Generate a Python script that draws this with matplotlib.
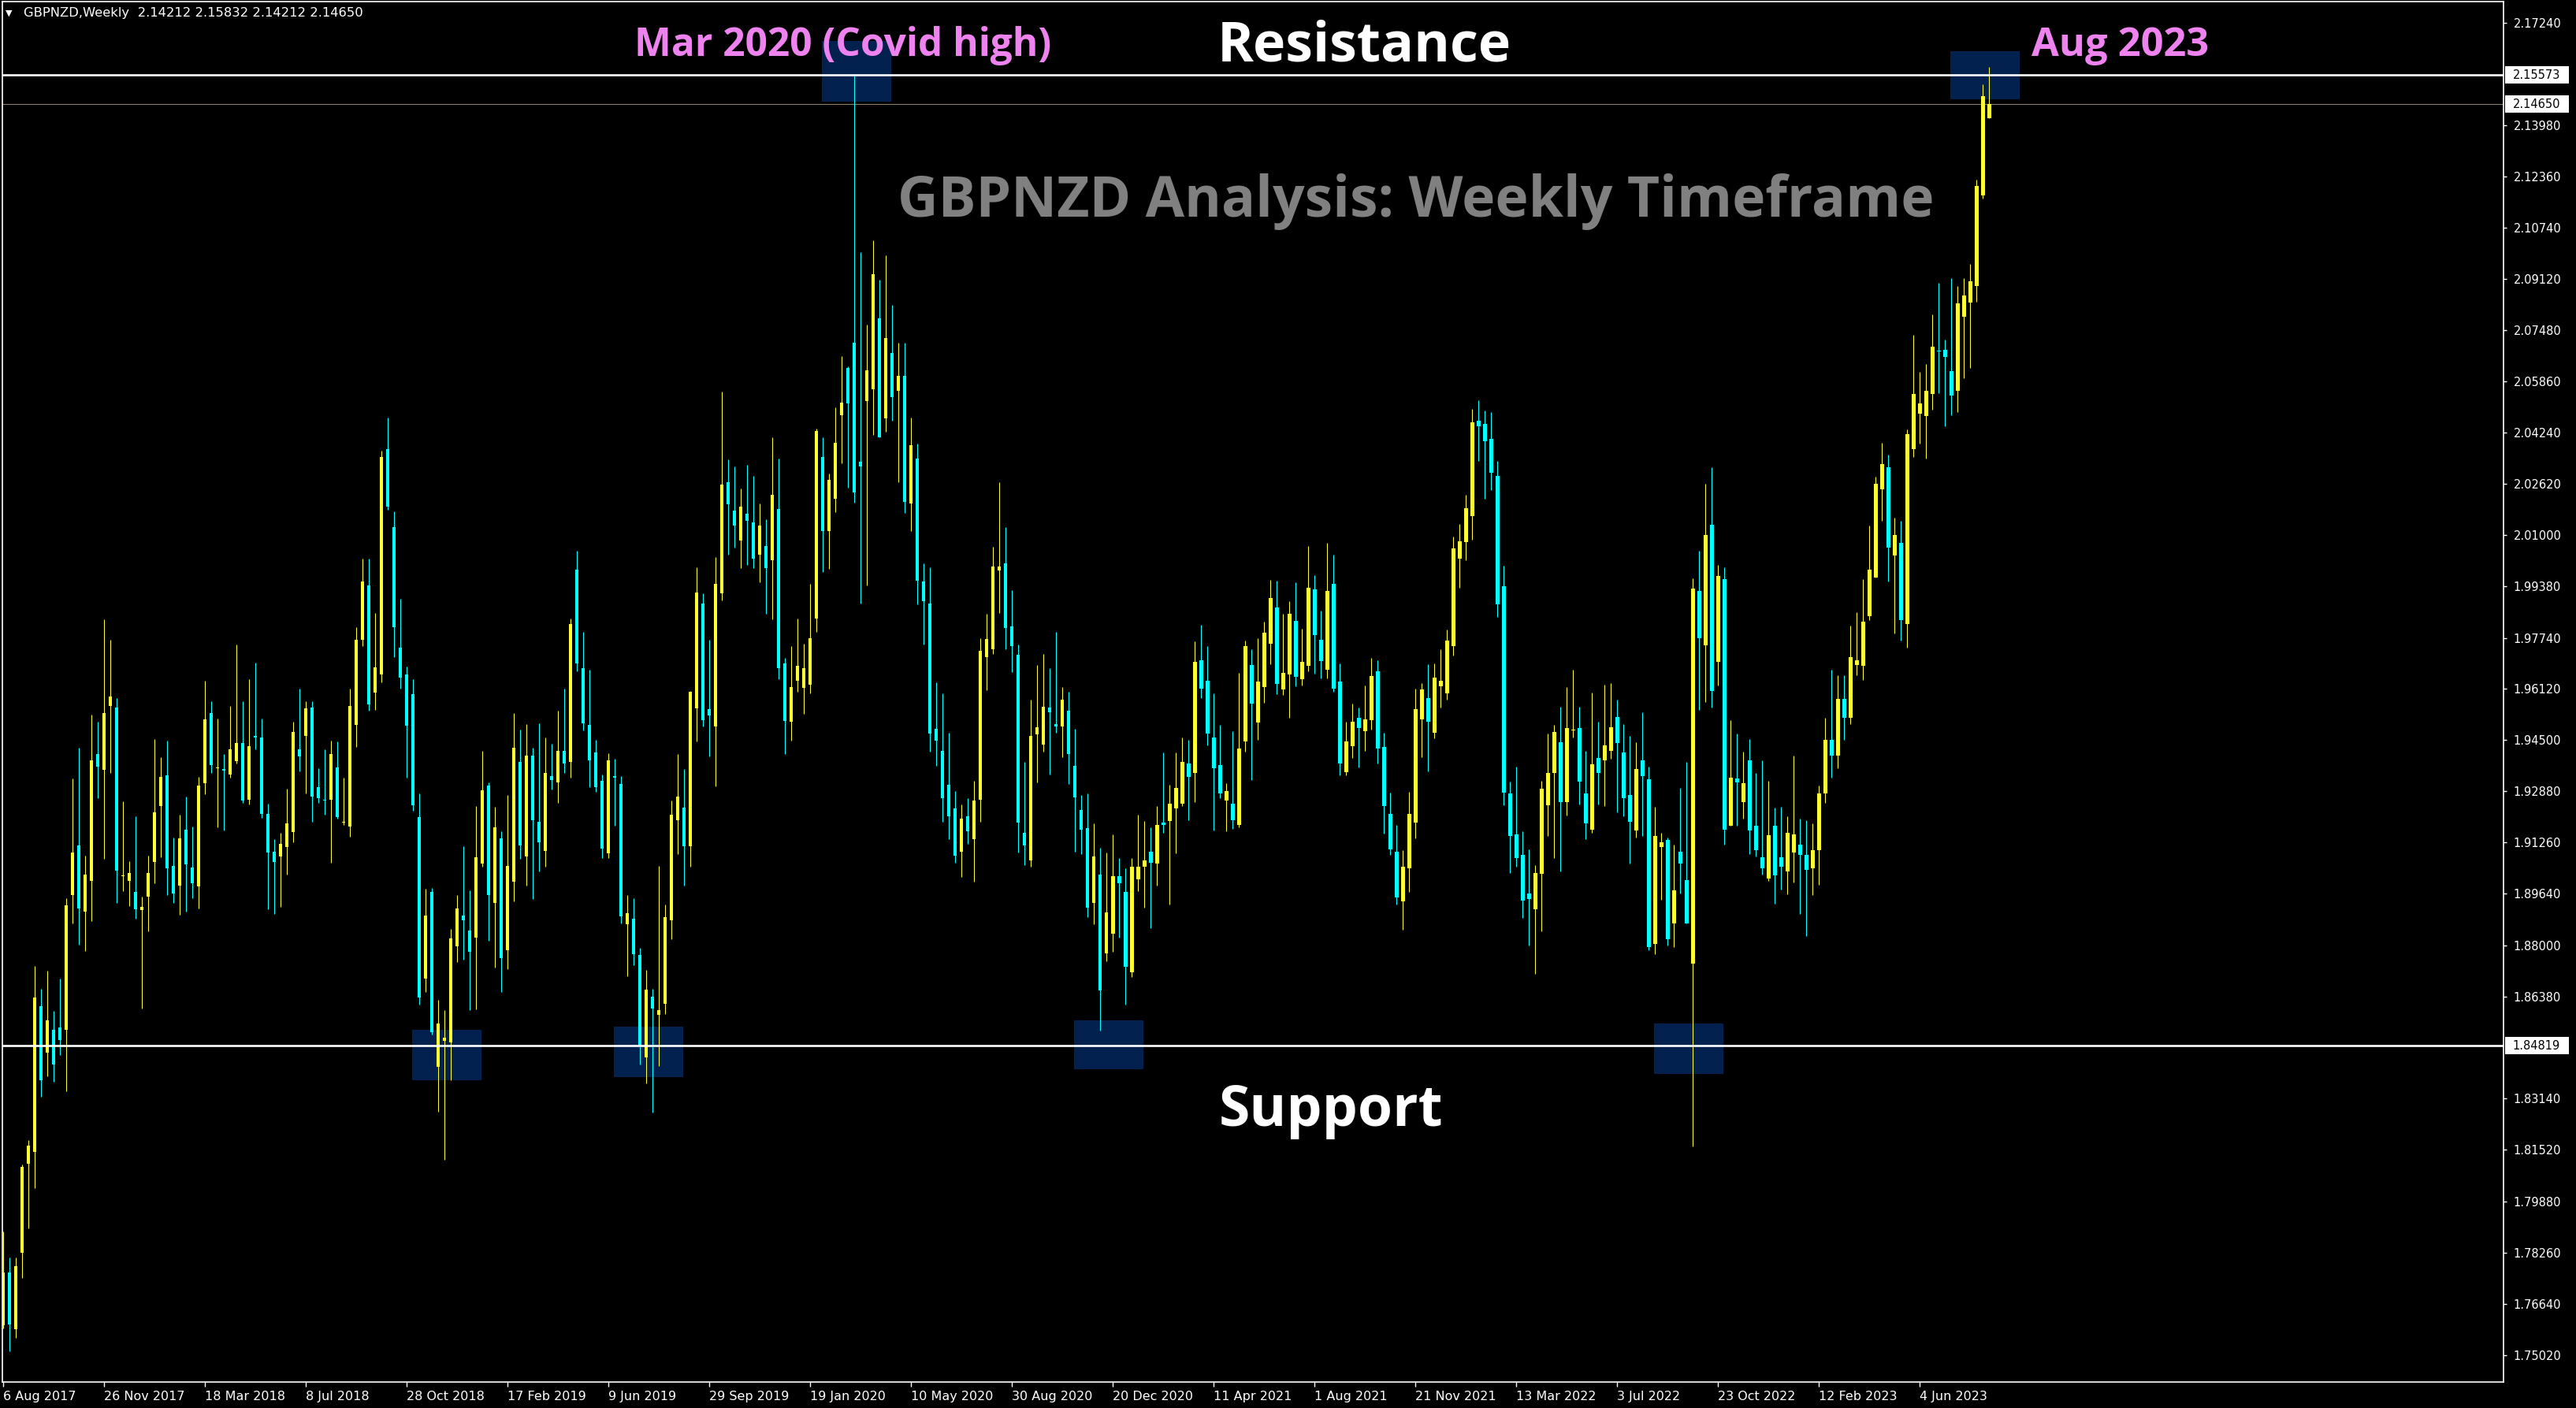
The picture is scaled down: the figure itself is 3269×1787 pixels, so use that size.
import matplotlib
matplotlib.use('Agg')
import matplotlib.pyplot as plt
from matplotlib.patches import Rectangle
import numpy as np

# ---------------- data (weekly GBPNZD candles, 6 Aug 2017 .. 20 Aug 2023) ----------------
opens = [
    1.7595, 1.7764, 1.7582, 1.7825, 1.8108, 1.8146, 1.8608, 1.8460, 1.8531, 1.8539,
    1.8532, 1.8960, 1.9115, 1.8907, 1.9005, 1.9407, 1.9356, 1.9559, 1.9552, 1.9018,
    1.9005, 1.8970, 1.8912, 1.8953, 1.9063, 1.9242, 1.9338, 1.9051, 1.8990, 1.9167,
    1.9046, 1.8987, 1.9314, 1.9535, 1.9360, 1.9358, 1.9340, 1.9383, 1.9442, 1.9260,
    1.9463, 1.9457, 1.9215, 1.9097, 1.9080, 1.9110, 1.9158, 1.9422, 1.9464, 1.9553,
    1.9300, 1.9262, 1.9260, 1.9364, 1.9188, 1.9175, 1.9497, 1.9769, 1.9941, 1.9600,
    1.9659, 2.0371, 2.0124, 1.9744, 1.9659, 1.9595, 1.9207, 1.8693, 1.8968, 1.8415,
    1.8496, 1.8491, 1.8796, 1.8893, 1.8846, 1.8823, 1.9060, 1.9305, 1.8933, 1.9138,
    1.8785, 1.9001, 1.9380, 1.9080, 1.9402, 1.9192, 1.9098, 1.9336, 1.9315, 1.9415,
    1.9380, 1.9990, 1.9677, 1.9497, 1.9410, 1.9320, 1.9092, 1.9335, 1.9310, 1.8867,
    1.8883, 1.8769, 1.8445, 1.8638, 1.8579, 1.8614, 1.8880, 1.9197, 1.9235, 1.9114,
    1.9551, 1.9882, 1.9549, 1.9492, 1.9914, 2.0266, 2.0178, 2.0083, 2.0167, 2.0139,
    2.0038, 2.0064, 2.0021, 2.0182, 1.9692, 1.9509, 1.9638, 1.9616, 1.9626, 1.9836,
    2.0347, 2.0112, 2.0214, 2.0479, 2.0629, 2.0709, 2.0332, 2.0525, 2.0563, 2.0786,
    2.0469, 2.0676, 2.0557, 2.0604, 2.0200, 2.0342, 1.9952, 1.9882, 1.9485, 1.9415,
    1.9309, 1.9233, 1.9097, 1.9208, 1.9135, 1.9260, 1.9714, 1.9737, 1.9988, 2.0009,
    1.9810, 1.9720, 1.9157, 1.9068, 1.9467, 1.9437, 1.9552, 1.9501, 1.9492, 1.9542,
    1.9369, 1.9229, 1.9170, 1.8935, 1.9025, 1.8773, 1.8836, 1.9019, 1.8968, 1.8715,
    1.9008, 1.9048, 1.9095, 1.9060, 1.9189, 1.9193, 1.9233, 1.9249, 1.9377, 1.9347,
    1.9702, 1.9639, 1.9459, 1.9370, 1.9259, 1.9248, 1.9180, 1.9446, 1.9687, 1.9506,
    1.9618, 1.9755, 1.9871, 1.9611, 1.9658, 1.9829, 1.9644, 1.9686, 1.9927, 1.9767,
    1.9673, 1.9944, 1.9636, 1.9348, 1.9431, 1.9520, 1.9478, 1.9513, 1.9667, 1.9429,
    1.9217, 1.9095, 1.8939, 1.9043, 1.9188, 1.9515, 1.9582, 1.9473, 1.9621, 1.9598,
    1.9749, 2.0026, 2.0077, 2.0160, 2.0461, 2.0453, 2.0404, 2.0286, 1.9937, 1.9282,
    1.9152, 1.9087, 1.8965, 1.8915, 1.9027, 1.9243, 1.9345, 1.9444, 1.9254, 1.9480,
    1.9487, 1.9282, 1.9165, 1.9394, 1.9387, 1.9417, 1.9524, 1.9411, 1.9275, 1.9163,
    1.9387, 1.9325, 1.8805, 1.9112, 1.9134, 1.8868, 1.9096, 1.9007, 1.8742, 1.9923,
    1.9750, 2.0132, 1.9697, 1.9959, 1.9178, 1.9329, 1.9254, 1.9387, 1.9179, 1.9078,
    1.9012, 1.9178, 1.9078, 1.9033, 1.9093, 1.9118, 1.9085, 1.9045, 1.9100, 1.9280,
    1.9450, 1.9400, 1.9580, 1.9520, 1.9689, 1.9686, 1.9843, 1.9964, 2.0245, 2.0314,
    2.0035, 2.0074, 1.9819, 2.0373, 2.0484, 2.0478, 2.0548, 2.0685, 2.0687, 2.0619,
    2.0556, 2.0792, 2.0837, 2.0889, 2.1176, 2.14212,
]
highs = [
    1.7894, 1.7810, 1.7810, 1.8105, 1.8183, 1.8733, 1.8662, 1.8718, 1.8593, 1.8693,
    1.8948, 1.9329, 1.9427, 1.9084, 1.9530, 1.9507, 1.9833, 1.9767, 1.9584, 1.9255,
    1.9066, 1.9209, 1.8953, 1.9083, 1.9454, 1.9397, 1.9449, 1.9140, 1.9213, 1.9272,
    1.9176, 1.9334, 1.9637, 1.9572, 1.9519, 1.9405, 1.9557, 1.9752, 1.9572, 1.9642,
    1.9695, 1.9517, 1.9248, 1.9137, 1.9155, 1.9295, 1.9507, 1.9614, 1.9572, 1.9574,
    1.9360, 1.9420, 1.9449, 1.9447, 1.9332, 1.9612, 1.9807, 2.0024, 2.0026, 1.9852,
    2.0367, 2.0473, 2.0174, 1.9897, 1.9684, 1.9642, 1.9281, 1.8980, 1.8982, 1.8628,
    1.8594, 1.8851, 1.8958, 1.9113, 1.8973, 1.9240, 1.9417, 1.9317, 1.9238, 1.9162,
    1.9275, 1.9535, 1.9482, 1.9500, 1.9427, 1.9502, 1.9459, 1.9438, 1.9544, 1.9612,
    1.9834, 2.0050, 1.9792, 1.9673, 1.9450, 1.9342, 1.9408, 1.9390, 1.9337, 1.8960,
    1.8950, 1.8791, 1.8721, 1.8663, 1.9052, 1.8929, 1.9258, 1.9407, 1.9358, 1.9605,
    1.9997, 1.9914, 1.9769, 2.0029, 2.0554, 2.0339, 2.0318, 2.0248, 2.0322, 2.0288,
    2.0199, 2.0150, 2.0409, 2.0341, 1.9710, 1.9747, 1.9834, 1.9755, 1.9944, 2.0438,
    2.0409, 2.0294, 2.0504, 2.0667, 2.0634, 2.1560, 2.0996, 2.0766, 2.1034, 2.0909,
    2.0986, 2.0829, 2.0709, 2.0709, 2.0472, 2.0389, 2.0009, 1.9997, 1.9632, 1.9597,
    1.9473, 1.9288, 1.9246, 1.9265, 1.9320, 1.9773, 1.9850, 2.0063, 2.0267, 2.0124,
    1.9925, 1.9754, 1.9380, 1.9579, 1.9689, 1.9722, 1.9677, 1.9794, 1.9619, 1.9604,
    1.9485, 1.9275, 1.9280, 1.9187, 1.9108, 1.9093, 1.9150, 1.9075, 1.9043, 1.9077,
    1.9213, 1.9193, 1.9173, 1.9240, 1.9412, 1.9309, 1.9412, 1.9459, 1.9450, 1.9762,
    1.9816, 1.9747, 1.9597, 1.9497, 1.9314, 1.9477, 1.9664, 1.9766, 1.9739, 1.9774,
    1.9826, 1.9957, 1.9955, 1.9849, 1.9889, 1.9951, 1.9802, 2.0066, 1.9972, 1.9861,
    2.0075, 2.0037, 1.9692, 1.9509, 1.9565, 1.9552, 1.9622, 1.9710, 1.9704, 1.9472,
    1.9283, 1.9180, 1.9100, 1.9285, 1.9612, 1.9631, 1.9690, 1.9694, 1.9737, 1.9800,
    2.0094, 2.0136, 2.0226, 2.0499, 2.0528, 2.0494, 2.0489, 2.0334, 2.0002, 1.9319,
    1.9365, 1.9160, 1.9103, 1.9055, 1.9322, 1.9470, 1.9498, 1.9555, 1.9617, 1.9672,
    1.9555, 1.9417, 1.9600, 1.9509, 1.9625, 1.9631, 1.9577, 1.9501, 1.9462, 1.9444,
    1.9537, 1.9366, 1.9239, 1.9157, 1.9140, 1.9119, 1.9299, 1.9380, 1.9962, 2.0049,
    2.0263, 2.0314, 2.0006, 1.9998, 1.9512, 1.9470, 1.9414, 1.9452, 1.9347, 1.9387,
    1.9320, 1.9235, 1.9239, 1.9209, 1.9402, 1.9202, 1.9197, 1.9187, 1.9305, 1.9520,
    1.9673, 1.9655, 1.9655, 1.9812, 1.9855, 1.9959, 2.0129, 2.0284, 2.0391, 2.0354,
    2.0156, 2.0146, 2.0435, 2.0735, 2.0616, 2.0641, 2.0799, 2.0898, 2.0718, 2.0914,
    2.0890, 2.0914, 2.0958, 2.1227, 2.1528, 2.15832,
]
lows = [
    1.7585, 1.7514, 1.7556, 1.7745, 1.7902, 1.8029, 1.8320, 1.8384, 1.8367, 1.8453,
    1.8338, 1.8870, 1.8802, 1.8781, 1.8877, 1.9265, 1.9073, 1.9346, 1.8933, 1.8971,
    1.8924, 1.8885, 1.8600, 1.8843, 1.8997, 1.9079, 1.8960, 1.8934, 1.8897, 1.8907,
    1.8948, 1.8917, 1.9279, 1.9345, 1.9173, 1.9163, 1.9331, 1.9377, 1.9251, 1.9245,
    1.9420, 1.9203, 1.8913, 1.8900, 1.8921, 1.9025, 1.9125, 1.9352, 1.9280, 1.9190,
    1.9252, 1.9213, 1.9061, 1.9200, 1.9180, 1.9143, 1.9428, 1.9747, 1.9542, 1.9545,
    1.9632, 2.0181, 1.9714, 1.9614, 1.9332, 1.9226, 1.8613, 1.8651, 1.8517, 1.8273,
    1.8121, 1.8371, 1.8746, 1.8754, 1.8595, 1.8597, 1.9048, 1.8813, 1.8728, 1.8651,
    1.8723, 1.8938, 1.9073, 1.8990, 1.8946, 1.9035, 1.9050, 1.9293, 1.9251, 1.9345,
    1.9332, 1.9667, 1.9480, 1.9302, 1.9285, 1.9075, 1.9075, 1.9178, 1.8869, 1.8702,
    1.8737, 1.8423, 1.8362, 1.8270, 1.8418, 1.8581, 1.8820, 1.9089, 1.8988, 1.9049,
    1.9446, 1.9493, 1.9399, 1.9304, 1.9893, 2.0038, 2.0060, 1.9995, 2.0006, 1.9994,
    1.9951, 1.9850, 1.9833, 1.9642, 1.9406, 1.9449, 1.9602, 1.9533, 1.9597, 1.9794,
    1.9983, 1.9993, 2.0173, 2.0326, 2.0249, 2.0203, 1.9882, 1.9939, 2.0417, 2.0409,
    2.0428, 2.0463, 2.0266, 2.0169, 2.0113, 1.9879, 1.9754, 1.9414, 1.9369, 1.9192,
    1.9136, 1.9062, 1.9017, 1.9121, 1.9002, 1.9191, 1.9609, 1.9722, 1.9852, 1.9739,
    1.9666, 1.9093, 1.9055, 1.9050, 1.9315, 1.9414, 1.9340, 1.9472, 1.9397, 1.9312,
    1.9095, 1.9088, 1.8890, 1.8867, 1.8530, 1.8748, 1.8778, 1.8825, 1.8613, 1.8698,
    1.8972, 1.8918, 1.8853, 1.8988, 1.9157, 1.8928, 1.9090, 1.9242, 1.9197, 1.9253,
    1.9582, 1.9434, 1.9164, 1.9266, 1.9162, 1.9168, 1.9174, 1.9414, 1.9323, 1.9451,
    1.9569, 1.9691, 1.9595, 1.9593, 1.9521, 1.9621, 1.9623, 1.9668, 1.9661, 1.9646,
    1.9646, 1.9604, 1.9338, 1.9338, 1.9394, 1.9363, 1.9416, 1.9484, 1.9375, 1.9153,
    1.9087, 1.8929, 1.8849, 1.8969, 1.9139, 1.9396, 1.9351, 1.9456, 1.9554, 1.9577,
    1.9719, 1.9932, 2.0019, 2.0086, 2.0334, 2.0216, 2.0242, 1.9840, 1.9243, 1.9030,
    1.9050, 1.8886, 1.8799, 1.8708, 1.8843, 1.9145, 1.9077, 1.9033, 1.9212, 1.9457,
    1.9245, 1.9137, 1.9155, 1.9245, 1.9240, 1.9392, 1.9222, 1.9209, 1.9060, 1.9140,
    1.9145, 1.8784, 1.8771, 1.8944, 1.8798, 1.8795, 1.8965, 1.8869, 1.8163, 1.9545,
    1.9570, 1.9554, 1.9624, 1.9119, 1.9178, 1.9179, 1.9200, 1.9088, 1.9082, 1.9025,
    1.9003, 1.8932, 1.8977, 1.8962, 1.8998, 1.8898, 1.8830, 1.8959, 1.8991, 1.9250,
    1.9330, 1.9360, 1.9450, 1.9500, 1.9655, 1.9640, 1.9830, 1.9964, 2.0145, 1.9953,
    1.9788, 1.9766, 1.9742, 2.0347, 2.0390, 2.0341, 2.0496, 2.0549, 2.0444, 2.0480,
    2.0489, 2.0598, 2.0630, 2.0839, 2.1167, 2.14212,
]
closes = [
    1.7764, 1.7598, 1.7784, 1.8097, 1.8166, 1.8634, 1.8372, 1.8563, 1.8423, 1.8500,
    1.8926, 1.9093, 1.8917, 1.9025, 1.9385, 1.9365, 1.9535, 1.9589, 1.9037, 1.9020,
    1.9030, 1.8914, 1.8922, 1.9030, 1.9220, 1.9334, 1.9044, 1.8963, 1.9139, 1.9057,
    1.8997, 1.9307, 1.9515, 1.9370, 1.9364, 1.9354, 1.9422, 1.9442, 1.9258, 1.9432,
    1.9459, 1.9215, 1.9093, 1.9063, 1.9120, 1.9186, 1.9475, 1.9398, 1.9550, 1.9270,
    1.9265, 1.9258, 1.9407, 1.9205, 1.9192, 1.9559, 1.9769, 1.9952, 1.9562, 1.9680,
    2.0346, 2.0189, 1.9809, 1.9647, 1.9495, 1.9243, 1.8635, 1.8895, 1.8525, 1.8551,
    1.8507, 1.8821, 1.8916, 1.8878, 1.8778, 1.9078, 1.9290, 1.8958, 1.9173, 1.8758,
    1.9052, 1.9425, 1.9115, 1.9400, 1.9196, 1.9126, 1.9347, 1.9323, 1.9415, 1.9375,
    1.9819, 1.9692, 1.9502, 1.9387, 1.9302, 1.9107, 1.9385, 1.9331, 1.8891, 1.8901,
    1.8772, 1.8482, 1.8660, 1.8600, 1.8595, 1.8890, 1.9213, 1.9270, 1.9114, 1.9602,
    1.9917, 1.9514, 1.9527, 1.9944, 2.0260, 2.0197, 2.0131, 2.0191, 2.0145, 2.0025,
    2.0129, 1.9995, 2.0226, 1.9677, 1.9511, 1.9619, 1.9685, 1.9677, 1.9772, 2.0430,
    2.0113, 2.0274, 2.0392, 2.0520, 2.0517, 2.0234, 2.0318, 2.0622, 2.0926, 2.0409,
    2.0724, 2.0538, 2.0604, 2.0206, 2.0385, 1.9955, 1.9889, 1.9471, 1.9449, 1.9267,
    1.9208, 1.9084, 1.9201, 1.9160, 1.9258, 1.9732, 1.9770, 2.0000, 2.0000, 1.9806,
    1.9749, 1.9188, 1.9117, 1.9463, 1.9490, 1.9555, 1.9539, 1.9492, 1.9579, 1.9407,
    1.9269, 1.9167, 1.8918, 1.9082, 1.8658, 1.8903, 1.9019, 1.8997, 1.8731, 1.9048,
    1.9050, 1.9068, 1.9062, 1.9180, 1.9182, 1.9249, 1.9298, 1.9382, 1.9334, 1.9697,
    1.9612, 1.9470, 1.9360, 1.9280, 1.9288, 1.9196, 1.9424, 1.9749, 1.9566, 1.9636,
    1.9791, 1.9899, 1.9628, 1.9664, 1.9849, 1.9651, 1.9697, 1.9932, 1.9783, 1.9700,
    1.9922, 1.9613, 1.9376, 1.9445, 1.9509, 1.9489, 1.9516, 1.9652, 1.9423, 1.9240,
    1.9104, 1.8951, 1.9048, 1.9215, 1.9547, 1.9610, 1.9508, 1.9647, 1.9639, 1.9766,
    2.0057, 2.0079, 2.0184, 2.0456, 2.0444, 2.0396, 2.0297, 1.9879, 1.9284, 1.9147,
    1.9075, 1.8942, 1.8947, 1.9030, 1.9295, 1.9345, 1.9475, 1.9254, 1.9487, 1.9484,
    1.9319, 1.9185, 1.9373, 1.9345, 1.9433, 1.9490, 1.9440, 1.9265, 1.9190, 1.9358,
    1.9335, 1.8795, 1.9145, 1.9125, 1.8820, 1.8974, 1.9060, 1.8869, 1.9929, 1.9774,
    2.0099, 1.9605, 1.9971, 1.9167, 1.9332, 1.9316, 1.9314, 1.9164, 1.9100, 1.9043,
    1.9149, 1.9021, 1.9048, 1.9155, 1.9152, 1.9085, 1.9040, 1.9100, 1.9280, 1.9450,
    1.9400, 1.9580, 1.9520, 1.9712, 1.9704, 1.9825, 1.9989, 2.0263, 2.0324, 2.0061,
    2.0101, 1.9830, 2.0419, 2.0548, 2.0516, 2.0556, 2.0696, 2.0681, 2.0663, 2.0543,
    2.0833, 2.0860, 2.0903, 2.1205, 2.1490, 2.14650,
]

# x-axis date labels (every 16 weeks)
date_positions = [0, 16, 32, 48, 64, 80, 96, 112, 128, 144, 160, 176, 192, 208, 224,
                  240, 256, 272, 288, 304]
date_labels = ['6 Aug 2017', '26 Nov 2017', '18 Mar 2018', '8 Jul 2018', '28 Oct 2018',
               '17 Feb 2019', '9 Jun 2019', '29 Sep 2019', '19 Jan 2020', '10 May 2020',
               '30 Aug 2020', '20 Dec 2020', '11 Apr 2021', '1 Aug 2021', '21 Nov 2021',
               '13 Mar 2022', '3 Jul 2022', '23 Oct 2022', '12 Feb 2023', '4 Jun 2023']

# price-axis labels
price_ticks = [2.17240, 2.13980, 2.12360, 2.10740, 2.09120, 2.07480, 2.05860, 2.04240,
               2.02620, 2.01000, 1.99380, 1.97740, 1.96120, 1.94500, 1.92880, 1.91260,
               1.89640, 1.88000, 1.86380, 1.83140, 1.81520, 1.79880, 1.78260, 1.76640,
               1.75020]

resistance = 2.15573
support = 1.84819
bid = 2.14650

# highlight boxes (left edge in bars, 11 bars wide, price range)
box_left = [64.9, 96.9, 129.9, 169.9, 261.9, 308.9]
box_lo = [1.8371, 1.8383, 2.1473, 1.8406, 1.8393, 2.1480]
box_hi = [1.8531, 1.8543, 2.1665, 1.8561, 1.8553, 2.1633]
box_width = 11

# ---------------- figure ----------------
W, H, DPI = 3269, 1787, 100
YELLOW = '#FFFF33'
CYAN = '#00FFFF'
NAVY = '#02214F'
PINK = '#EE82EE'

fig = plt.figure(figsize=(W / DPI, H / DPI), dpi=DPI, facecolor='black')
L_px, R_px, T_px, B_px = 2.5, 3177, 2, 1754
ax = fig.add_axes([L_px / W, 1 - B_px / H, (R_px - L_px) / W, (B_px - T_px) / H])
ax.set_facecolor('black')
ax.set_xlim(-0.19, 396.6)
ax.set_ylim(1.74159, 2.17902)

for s in ax.spines.values():
    s.set_color('white')
    s.set_linewidth(1.2)

# boxes
for bl, lo, hi in zip(box_left, box_lo, box_hi):
    ax.add_patch(Rectangle((bl, lo), box_width, hi - lo, facecolor=NAVY,
                           edgecolor='none', zorder=1))

# horizontal lines
ax.axhline(bid, color='#8f8270', lw=0.75, zorder=2)
ax.axhline(resistance, color='white', lw=1.9, zorder=5)
ax.axhline(support, color='white', lw=1.9, zorder=5)

# candles
o = np.array(opens); h = np.array(highs); l = np.array(lows); c = np.array(closes)
x = np.arange(len(c))
up = c >= o
cols = np.where(up, YELLOW, CYAN)
ax.vlines(x, l, h, colors=cols, linewidth=0.75, zorder=3)
body_lo = np.minimum(o, c)
body_h = np.maximum(np.abs(c - o), 0.00026)
ax.bar(x, body_h, bottom=body_lo, width=0.6, color=cols, linewidth=0, zorder=4)

# axis ticks / labels
ax.yaxis.tick_right()
ax.set_yticks(price_ticks)
ax.set_yticklabels([f'{v:.5f}' for v in price_ticks])
ax.tick_params(axis='y', colors='white', labelcolor='white', length=3, width=1,
               direction='out', pad=6, labelsize=10.5)
ax.set_xticks(date_positions)
ax.set_xticklabels(date_labels, ha='left')
ax.tick_params(axis='x', colors='white', labelcolor='white', length=4, width=1,
               direction='out', pad=4, labelsize=11.5)
for t in ax.get_xticklabels():
    t.set_horizontalalignment('left')

# highlighted price labels on the axis
ytr = ax.get_yaxis_transform()
for val in [resistance, bid, support]:
    ax.add_patch(Rectangle((1.0006, val - 0.0027), 0.0254, 0.0054, transform=ytr,
                           facecolor='white', edgecolor='none', clip_on=False, zorder=6))
    ax.text(1.0037, val, f'{val:.5f}', transform=ytr, color='black', fontsize=10.5,
            va='center', ha='left', clip_on=False, zorder=7)

# header
fig.text(7 / W, 1 - 17 / H, '\u25bc', color='white', fontsize=8, va='center', ha='left')
fig.text(30 / W, 1 - 17 / H, 'GBPNZD,Weekly  2.14212 2.15832 2.14212 2.14650',
         color='white', fontsize=11.8, va='center', ha='left')

# annotations
fig.canvas.draw()
renderer = fig.canvas.get_renderer()


def put(txt, cx, cy, width, color, family='Open Sans', weight='bold', size=40):
    t = fig.text(cx / W, 1 - cy / H, txt, color=color, fontsize=size,
                 fontfamily=family, fontweight=weight, ha='center', va='center')
    bb = t.get_window_extent(renderer)
    t.set_fontsize(size * width / bb.width)
    return t


put('Mar 2020 (Covid high)', 1070, 58, 530, PINK)
put('Resistance', 1731, 60, 373, 'white')
put('Aug 2023', 2691, 58, 225, PINK)
put('GBPNZD Analysis: Weekly Timeframe', 1797, 256, 1314, '#808080')
put('Support', 1689, 1410, 284, 'white')

fig.savefig('out.png', dpi=DPI, facecolor='black')
